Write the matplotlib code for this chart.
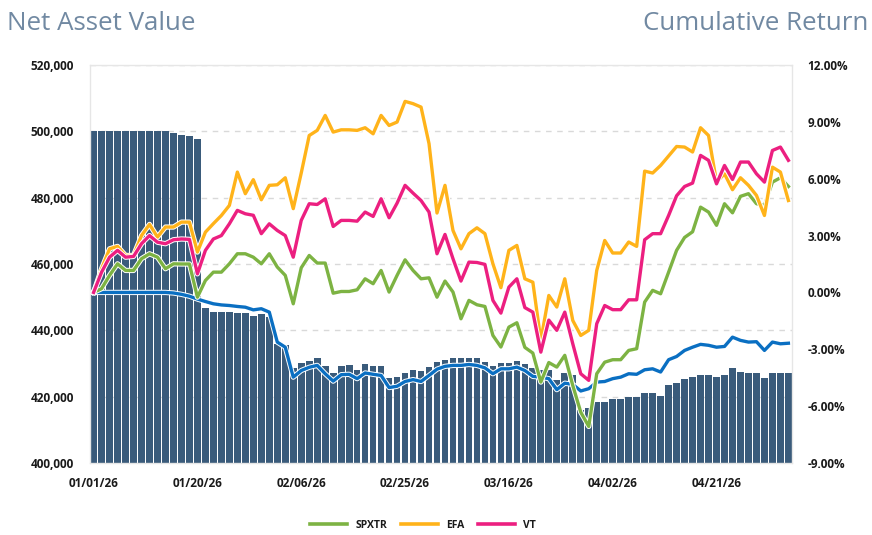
import matplotlib
matplotlib.use('Agg')
import matplotlib.pyplot as plt
import matplotlib.patheffects as pe
import numpy as np
import pandas as pd
from matplotlib.ticker import FuncFormatter

plt.rcParams['font.family'] = ['Open Sans', 'DejaVu Sans']

# categories: business days starting 01/01/26
dates = pd.bdate_range('2026-01-01', periods=88)
date_labels = [d.strftime('%m/%d/%y') for d in dates]
tick_step = 13

nav = [500000, 500000, 500000, 500000, 500000, 500000, 500000, 500000, 500000, 500000,
       499500, 499000, 498700, 497700, 446600, 445600, 445600, 445600, 445200, 445200,
       444400, 444800, 444000, 436000, 435500, 428600, 430300, 430900, 431800, 429100,
       427100, 429100, 429400, 428100, 429800, 429300, 429100, 425600, 426000, 427100,
       427900, 427600, 428900, 430600, 431100, 431600, 431600, 431800, 431600, 430600,
       429100, 430300, 430300, 430900, 430000, 428700, 428000, 428100, 425000, 427100,
       426500, 416000, 416500, 418300, 418300, 419200, 419200, 419800, 419800, 421000,
       421000, 420200, 423400, 424000, 425300, 426000, 426600, 426600, 426000, 426600,
       428500, 427500, 427200, 427200, 425500, 427100, 427000, 427000]

portfolio = [0, 0, 0, 0, 0, 0, 0, 0, 0, 0,
             -0.03, -0.10, -0.20, -0.35, -0.48, -0.60, -0.66, -0.69, -0.74, -0.78,
             -0.92, -0.86, -1.04, -2.62, -2.89, -4.47, -4.12, -3.95, -3.85, -4.29,
             -4.68, -4.34, -4.32, -4.55, -4.25, -4.32, -4.38, -5.02, -4.95, -4.70,
             -4.60, -4.70, -4.38, -4.05, -3.90, -3.85, -3.85, -3.80, -3.85, -3.98,
             -4.29, -4.03, -4.03, -3.94, -4.12, -4.43, -4.47, -4.55, -5.13, -4.79,
             -4.85, -5.20, -5.08, -4.73, -4.70, -4.55, -4.47, -4.29, -4.32, -4.08,
             -4.03, -4.20, -3.55, -3.38, -3.06, -2.89, -2.74, -2.79, -2.89, -2.85,
             -2.36, -2.53, -2.62, -2.60, -3.06, -2.62, -2.71, -2.68]

spxtr = [0, 0.20, 0.90, 1.51, 1.16, 1.16, 1.78, 2.04, 1.86, 1.25,
         1.51, 1.50, 1.50, -0.25, 0.63, 1.07, 1.07, 1.51, 2.04, 2.04,
         1.86, 1.51, 2.04, 1.34, 0.90, -0.60, 1.30, 1.95, 1.55, 1.55,
         -0.04, 0.05, 0.05, 0.14, 0.72, 0.46, 1.16, 0.02, 0.90, 1.72,
         1.16, 0.72, 0.77, -0.25, 0.60, 0.02, -1.39, -0.42, -0.65, -0.74,
         -2.27, -2.88, -1.83, -1.60, -2.90, -3.20, -4.73, -3.70, -3.94, -3.32,
         -4.91, -6.32, -7.07, -4.29, -3.68, -3.55, -3.55, -3.06, -2.97, -0.51,
         0.11, -0.07, 1.07, 2.22, 2.90, 3.20, 4.50, 4.24, 3.54, 4.68,
         4.20, 5.07, 5.21, 4.68, 4.59, 5.82, 6.05, 5.59]

efa = [0, 1.25, 2.30, 2.43, 1.95, 1.95, 3.00, 3.59, 2.92, 3.45,
       3.45, 3.71, 3.71, 2.13, 3.18, 3.63, 4.06, 4.59, 6.35, 5.21,
       5.95, 4.89, 5.65, 5.68, 6.05, 4.42, 6.30, 8.28, 8.55, 9.34,
       8.46, 8.58, 8.58, 8.55, 8.69, 8.37, 9.34, 8.81, 8.99, 10.08,
       9.96, 9.78, 7.85, 4.19, 5.65, 3.27, 2.30, 3.10, 3.41, 3.10,
       1.51, 0.25, 2.22, 2.48, 0.72, 0.54, -2.53, -0.16, -0.77, 0.72,
       -1.48, -2.27, -2.00, 1.16, 2.74, 2.08, 2.08, 2.66, 2.43, 6.40,
       6.30, 6.70, 7.20, 7.70, 7.67, 7.41, 8.69, 8.28, 5.82, 6.26,
       5.42, 6.05, 5.65, 5.12, 4.06, 6.61, 6.35, 4.85]

vt = [0, 1.07, 1.86, 2.22, 1.86, 1.90, 2.57, 3.00, 2.65, 2.57,
      2.78, 2.82, 2.80, 0.98, 2.22, 2.82, 3.00, 3.62, 4.33, 4.15,
      4.07, 3.10, 3.62, 3.27, 3.00, 1.86, 3.80, 4.68, 4.64, 4.94,
      3.48, 3.80, 3.80, 3.76, 4.24, 4.01, 4.94, 3.94, 4.71, 5.65,
      5.24, 4.85, 4.24, 2.04, 3.06, 1.78, 0.60, 1.60, 1.58, 1.48,
      -0.42, -1.09, 0.28, 0.72, -0.80, -1.04, -3.15, -1.46, -2.00, -1.04,
      -2.71, -4.29, -4.64, -1.65, -0.69, -0.91, -0.91, -0.39, -0.39, 2.78,
      3.10, 3.10, 4.06, 5.10, 5.59, 5.77, 7.23, 6.97, 5.73, 6.70,
      5.96, 6.88, 6.88, 6.26, 5.82, 7.49, 7.67, 6.97]

series_names = ['SPXTR', 'EFA', 'VT']
series_colors = ['#7db343', '#ffb31a', '#ec1f80']
portfolio_color = '#0a6fc2'
bar_color = '#3a5b7b'
title_color = '#7189a2'
label_color = '#1a1a1a'

W, H = 872, 535
fig = plt.figure(figsize=(W / 100, H / 100), dpi=100)
L, R, T, B = 90, 792, 65, 463
ax = fig.add_axes([L / W, 1 - B / H, (R - L) / W, (B - T) / H])

x = np.arange(len(nav))
ax.bar(x, nav, width=0.84, color=bar_color, zorder=2)
ax.set_ylim(400000, 520000)
ax.set_yticks(np.arange(400000, 520001, 20000))
ax.yaxis.set_major_formatter(FuncFormatter(lambda v, p: f'{int(v):,}'))
ax.set_xlim(-0.45, len(nav) - 0.55)
ticks = x[::tick_step]
ax.set_xticks(ticks)
ax.set_xticklabels([date_labels[i] for i in ticks])
ax.grid(axis='y', linestyle=(0, (4, 4)), color='#d9d9d9', linewidth=1.0, zorder=0)
ax.set_axisbelow(True)
ax.tick_params(axis='y', length=0, pad=11.5, labelsize=8.5, labelcolor=label_color)
ax.tick_params(axis='x', length=0, pad=10, labelsize=8.5, labelcolor=label_color)
for lab in ax.get_xticklabels() + ax.get_yticklabels():
    lab.set_fontweight('bold')
for s in ax.spines.values():
    s.set_color('#e6e6e6')
    s.set_linewidth(1.0)

ax2 = ax.twinx()
ax2.set_ylim(-9, 12)
ax2.set_yticks(np.arange(-9, 12.01, 3))
ax2.yaxis.set_major_formatter(FuncFormatter(lambda v, p: f'{v:.2f}%'))
ax2.tick_params(axis='y', length=0, pad=11, labelsize=8.5, labelcolor=label_color)
for lab in ax2.get_yticklabels():
    lab.set_fontweight('bold')
for s in ax2.spines.values():
    s.set_visible(False)

halo = [pe.Stroke(linewidth=3.8, foreground='white'), pe.Normal()]
ax2.plot(x, portfolio, color=portfolio_color, lw=2.4, solid_joinstyle='round',
         path_effects=halo, zorder=3)
handles = []
for vals, name, col in zip([spxtr, efa, vt], series_names, series_colors):
    h, = ax2.plot(x, vals, color=col, lw=2.4, solid_joinstyle='round',
                  path_effects=halo, label=name, zorder=4)
    handles.append(h)

leg = fig.legend(handles=[plt.Line2D([], [], color=c, lw=2.6) for c in series_colors],
                 labels=series_names, loc='center', bbox_to_anchor=(0.485, 1 - 525 / H),
                 ncol=3, frameon=False, fontsize=7.5, handlelength=3.6,
                 handletextpad=0.75, columnspacing=1.3)
for t in leg.get_texts():
    t.set_fontweight('bold')
    t.set_color(label_color)

fig.text(7 / W, 1 - 30 / H, 'Net Asset Value', fontsize=18.6, color=title_color,
         ha='left', va='baseline')
fig.text(868 / W, 1 - 30 / H, 'Cumulative Return', fontsize=18.6, color=title_color,
         ha='right', va='baseline')

fig.savefig('out.png', dpi=100)
